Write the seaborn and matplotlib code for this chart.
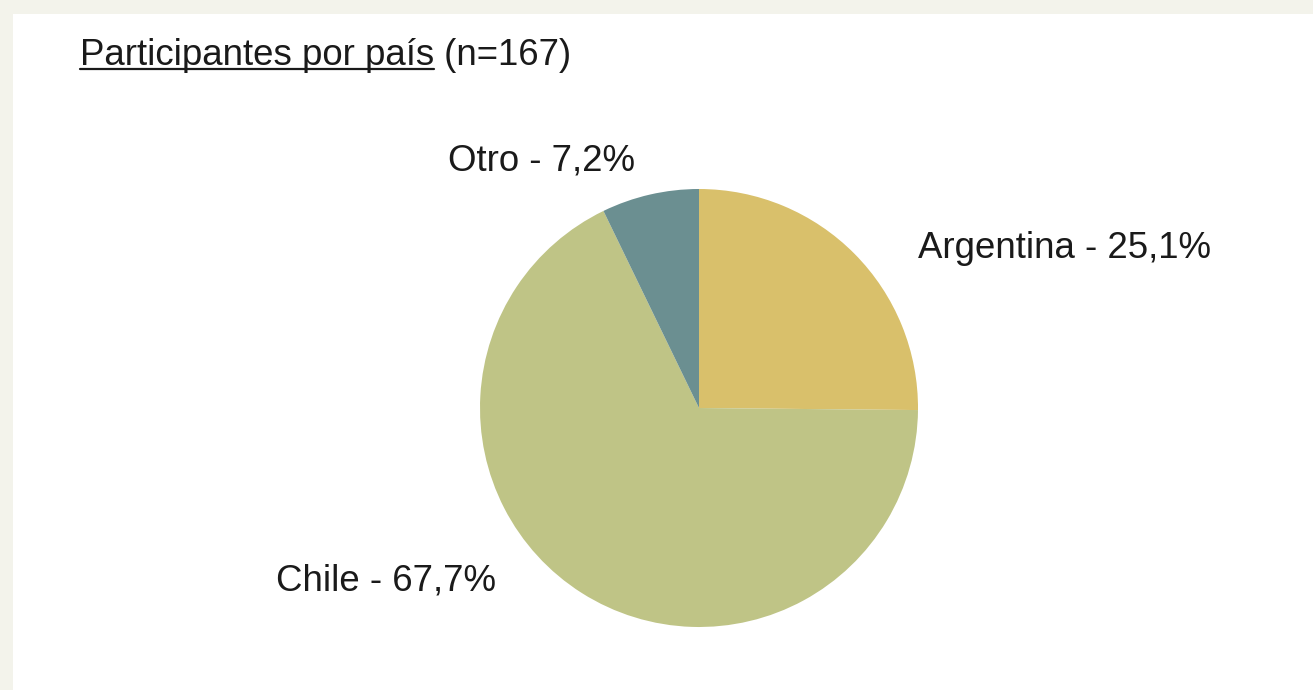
import matplotlib
matplotlib.use("Agg")
import matplotlib.pyplot as plt
import seaborn as sns
from matplotlib.lines import Line2D
from matplotlib.patches import Rectangle

# ---- data ----
countries = ["Argentina", "Chile", "Otro"]
counts = [42, 113, 12]
pct_labels = ["25,1%", "67,7%", "7,2%"]
colors = ["#d9c06b", "#bfc486", "#6b8f91"]
title_main = "Participantes por país"
title_n = " (n=167)"

sns.set_theme(style="white")
plt.rcParams["font.family"] = ["Liberation Sans", "DejaVu Sans"]

W, H = 1313, 690
fig = plt.figure(figsize=(W / 100, H / 100), dpi=100)
fig.patch.set_facecolor("#f3f3eb")
# white panel
fig.add_artist(Rectangle((13 / W, 0), 1 - 13 / W, 1 - 14 / H, transform=fig.transFigure,
                         facecolor="white", edgecolor="none", zorder=0))

cx, cy, r = 699, H - 408, 219
ax = fig.add_axes([(cx - r) / W, (cy - r) / H, 2 * r / W, 2 * r / H])
wedges, _ = ax.pie(counts, colors=colors, startangle=90, counterclock=False,
                   radius=1, wedgeprops=dict(linewidth=0), frame=False)
ax.set_xlim(-1, 1)
ax.set_ylim(-1, 1)
ax.set_aspect("equal")
ax.axis("off")

# label layout (position relative to pie centre, in radius units)
label_pos = [(1.0, 0.728, "left"), (-0.925, -0.792, "right"), (-0.29, 1.13, "right")]
fs = 26.4
for name, pct, (x, y, ha) in zip(countries, pct_labels, label_pos):
    ax.text(x, y, f"{name} - {pct}", ha=ha, va="center", fontsize=fs,
            color="#1a1a1a", clip_on=False)

# title with underlined part
base = 1 - 65 / H
t1 = fig.text(80 / W, base, title_main, fontsize=fs, color="#1a1a1a",
              ha="left", va="baseline")
fig.canvas.draw()
bb = t1.get_window_extent()
fig.text(bb.x1 / W, base, title_n, fontsize=fs, color="#1a1a1a",
         ha="left", va="baseline")
uy = 1 - 69 / H
fig.add_artist(Line2D([bb.x0 / W, bb.x1 / W], [uy, uy], transform=fig.transFigure,
                      color="#1a1a1a", linewidth=1.6))

fig.savefig("out.png", dpi=100, facecolor=fig.get_facecolor())
